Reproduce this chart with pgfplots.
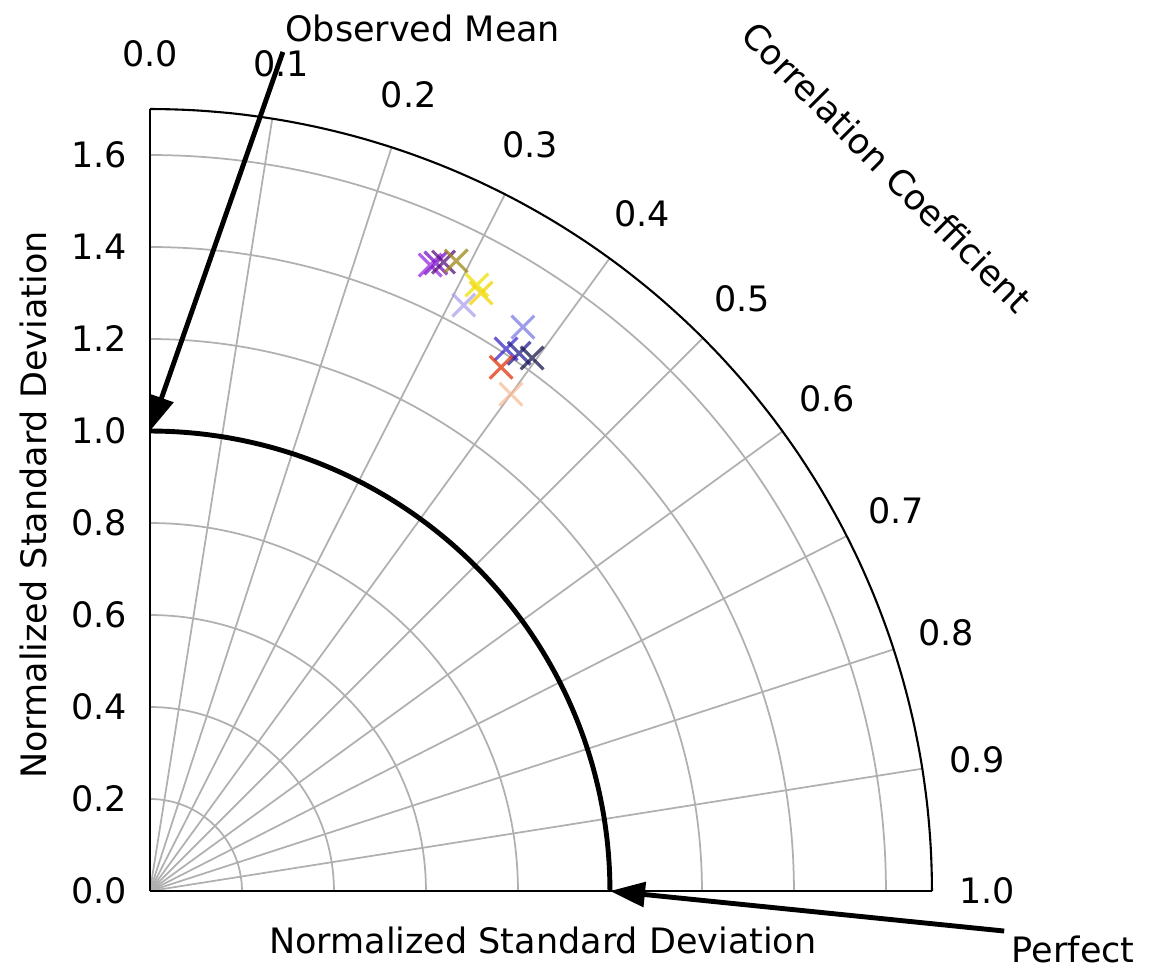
\documentclass[border=0pt]{standalone}
\usepackage{fontspec}
\setmainfont{DejaVu Sans}
\usepackage{pgfplots}
\pgfplotsset{compat=1.18}
\usetikzlibrary{arrows.meta}
\definecolor{gridgray}{HTML}{B0B0B0}
\definecolor{cA}{HTML}{9A2BE2}
\definecolor{cB}{HTML}{7A12C8}
\definecolor{cC}{HTML}{5B1478}
\definecolor{cD}{HTML}{9C8516}
\definecolor{cE}{HTML}{EEE200}
\definecolor{cF}{HTML}{F2D400}
\definecolor{cG}{HTML}{B0A0EC}
\definecolor{cH}{HTML}{7C7CE6}
\definecolor{cI}{HTML}{3A28C8}
\definecolor{cJ}{HTML}{28208F}
\definecolor{cK}{HTML}{18184E}
\definecolor{cL}{HTML}{E0320E}
\definecolor{cM}{HTML}{F5BC98}
\newcommand\tpt[3]{%
  \addplot[only marks, mark=x, mark size=4.6pt, line width=0.9pt, color=#1, opacity=0.75]
    table[row sep=\\, x expr={\thisrow{s}*cos(90*(1-\thisrow{r}))}, y expr={\thisrow{s}*sin(90*(1-\thisrow{r}))}]
    {s r\\ #2 #3\\};}
\begin{document}
\begin{tikzpicture}
\begin{axis}[
  x=131.4pt, y=131.4pt,
  xmin=0, xmax=1.7, ymin=0, ymax=1.7,
  axis lines=left,
  axis line style={-, line width=0.7pt},
  clip=false,
  xtick=\empty,
  ytick={0,0.2,0.4,0.6,0.8,1.0,1.2,1.4,1.6},
  major tick length=0pt,
  yticklabel style={/pgf/number format/fixed, /pgf/number format/fixed zerofill, /pgf/number format/precision=1, xshift=-3pt},
  /pgf/number format/assume math mode=true,
  axis on top,
]
% invisible frame fixing the picture size
\path (axis cs:-0.326,-0.174) rectangle (axis cs:2.174,1.937);
% radial grid lines
\foreach \a in {9,18,27,36,45,54,63,72,81}{
  \edef\tmp{\noexpand\draw[gridgray, line width=0.5pt] (axis cs:0,0) -- (axis cs:{1.7*cos(\a)},{1.7*sin(\a)});}
  \tmp
}
% std arcs
\foreach \r in {0.2,0.4,0.6,0.8,1.2,1.4,1.6}{
  \edef\tmp{\noexpand\addplot[gridgray, line width=0.5pt, domain=0:90, samples=90, smooth] ({\r*cos(x)},{\r*sin(x)});}
  \tmp
}
\addplot[black, line width=0.6pt, domain=0:90, samples=120, smooth] ({1.7*cos(x)},{1.7*sin(x)});
\addplot[black, line width=1.4pt, domain=0:90, samples=120, smooth] ({cos(x)},{sin(x)});
% model points (std, correlation)
\tpt{cA}{1.491}{0.268}
\tpt{cB}{1.500}{0.272}
\tpt{cC}{1.509}{0.278}
\tpt{cD}{1.523}{0.288}
\tpt{cE}{1.497}{0.315}
\tpt{cF}{1.486}{0.322}
\tpt{cG}{1.445}{0.313}
\tpt{cH}{1.470}{0.372}
\tpt{cI}{1.410}{0.370}
\tpt{cJ}{1.418}{0.383}
\tpt{cK}{1.426}{0.396}
\tpt{cL}{1.371}{0.376}
\tpt{cM}{1.335}{0.400}
% correlation labels
\node at (axis cs:{1.82*cos(90)},{1.82*sin(90)}) {0.0};
\node at (axis cs:{1.82*cos(81)},{1.82*sin(81)}) {0.1};
\node at (axis cs:{1.82*cos(72)},{1.82*sin(72)}) {0.2};
\node at (axis cs:{1.82*cos(63)},{1.82*sin(63)}) {0.3};
\node at (axis cs:{1.82*cos(54)},{1.82*sin(54)}) {0.4};
\node at (axis cs:{1.82*cos(45)},{1.82*sin(45)}) {0.5};
\node at (axis cs:{1.82*cos(36)},{1.82*sin(36)}) {0.6};
\node at (axis cs:{1.82*cos(27)},{1.82*sin(27)}) {0.7};
\node at (axis cs:{1.82*cos(18)},{1.82*sin(18)}) {0.8};
\node at (axis cs:{1.82*cos(9)},{1.82*sin(9)}) {0.9};
\node at (axis cs:1.82,0) {1.0};
\node[rotate=-45] at (axis cs:1.602,1.574) {Correlation Coefficient};
% labels
\node at (axis cs:0.854,-0.1065) {Normalized Standard Deviation};
\node[rotate=90] at (axis cs:-0.254,0.839) {Normalized Standard Deviation};
% annotations
\node at (axis cs:0.593,1.876) {Observed Mean};
\draw[line width=1.4pt, -{Triangle[length=10pt,width=7pt]}] (axis cs:0.289,1.824) -- (axis cs:0,1);
\node at (axis cs:2.007,-0.128) {Perfect};
\draw[line width=1.4pt, -{Triangle[length=10pt,width=7pt]}] (axis cs:1.857,-0.087) -- (axis cs:1,0);
\end{axis}
\end{tikzpicture}
\end{document}
